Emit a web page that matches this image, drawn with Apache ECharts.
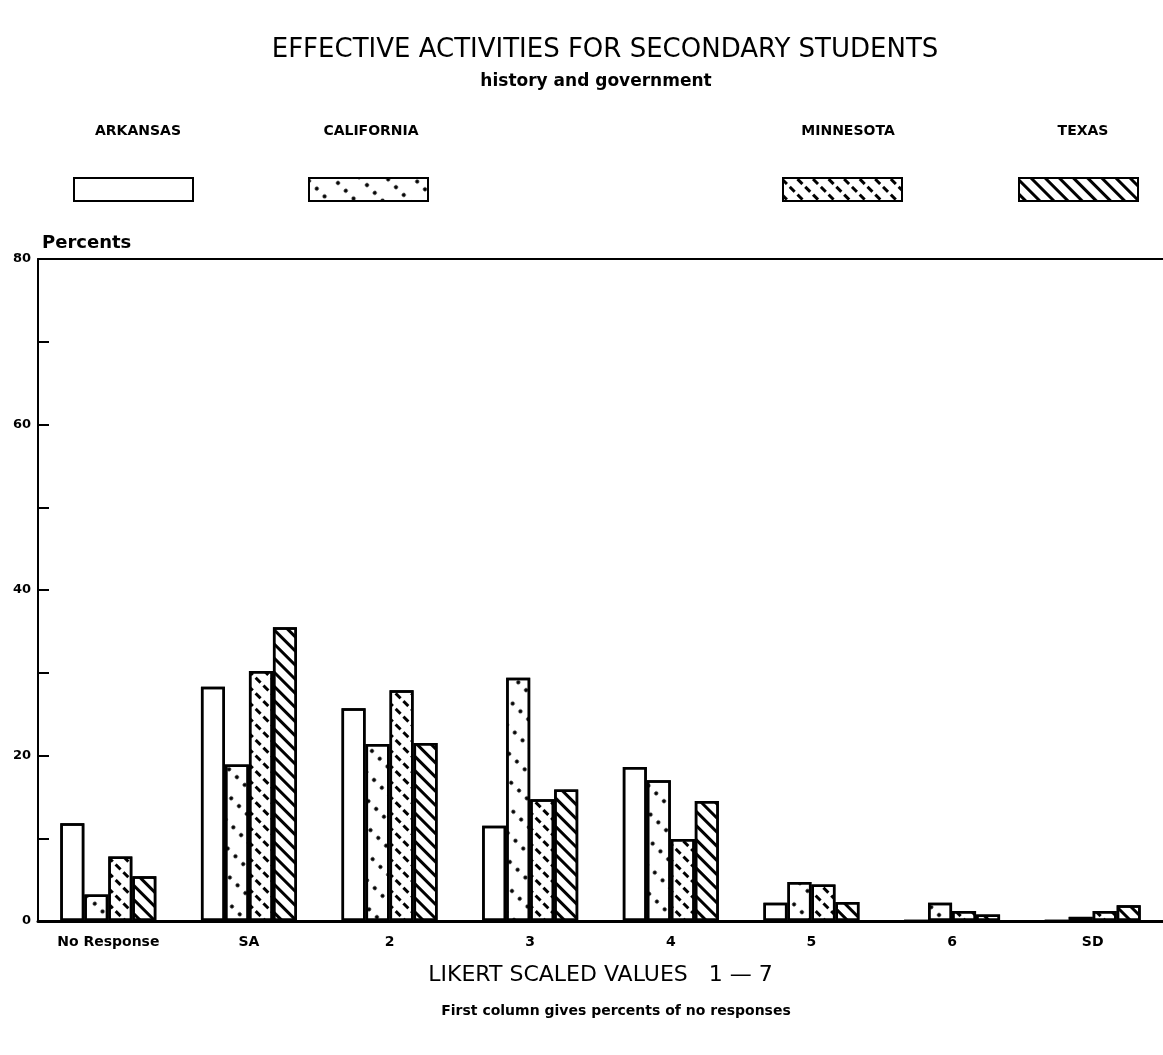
<!DOCTYPE html>
<html>
<head>
<meta charset="utf-8">
<script src="https://cdn.jsdelivr.net/npm/echarts@6/dist/echarts.min.js"></script>
<style>
html,body{margin:0;padding:0;background:#fff;}
#chart{width:1163px;height:1055px;}
</style>
</head>
<body>
<div id="chart"></div>
<script>
var categories = ['No Response', 'SA', '2', '3', '4', '5', '6', 'SD'];
var stateNames = ['ARKANSAS', 'CALIFORNIA', 'MINNESOTA', 'TEXAS'];
var arkansas   = [11.8, 28.3, 25.7, 11.5, 18.6, 2.2, 0,   0];
var california = [3.2,  18.9, 21.4, 29.4, 17.0, 4.7, 2.2, 0.5];
var minnesota  = [7.8,  30.2, 27.9, 14.7, 9.9,  4.4, 1.2, 1.2];
var texas      = [5.4,  35.5, 21.5, 15.9, 14.5, 2.3, 0.8, 1.9];
var yTicks = [0, 20, 40, 60, 80];

var FONT = 'DejaVu Sans';
var decals = [
  { symbol: 'none' },
  { symbol: 'circle', symbolSize: 1, color: '#000', dashArrayX: [3.2, 7], dashArrayY: [3.2, 15], rotation: Math.PI / 4 },
  { symbol: 'rect', symbolSize: 1, color: '#000', dashArrayX: [7, 4], dashArrayY: [2.5, 8], rotation: Math.PI / 4 },
  { symbol: 'rect', symbolSize: 1, color: '#000', dashArrayX: [1, 0], dashArrayY: [2.5, 7], rotation: Math.PI / 4 }
];
var values = [arkansas, california, minnesota, texas];

var series = stateNames.map(function (n, i) {
  return {
    name: n,
    type: 'bar',
    data: values[i],
    barWidth: 24,
    barGap: '0%',
    itemStyle: { color: '#fff', borderColor: '#000', borderWidth: 2.5, decal: decals[i] },
    emphasis: { disabled: true }
  };
});

var legendX = [73, 308, 782, 1018];
var legendLabelX = [133, 366, 843, 1078];
var legends = stateNames.map(function (n, i) {
  return {
    left: legendX[i], top: 177,
    data: [{ name: n, icon: 'rect' }],
    itemWidth: 119, itemHeight: 23,
    selectedMode: false,
    formatter: function () { return ''; },
    textStyle: { fontSize: 1 },
    padding: 0
  };
});

var titles = [
  { text: 'EFFECTIVE ACTIVITIES FOR SECONDARY STUDENTS', left: 600, textAlign: 'center', top: 32,
    textStyle: { fontFamily: FONT, fontWeight: 'normal', fontSize: 26, color: '#000' } },
  { text: 'history and government', left: 591, textAlign: 'center', top: 68,
    textStyle: { fontFamily: FONT, fontWeight: 'bold', fontSize: 17, color: '#000' } },
  { text: 'Percents', left: 37, top: 229,
    textStyle: { fontFamily: FONT, fontWeight: 'bold', fontSize: 18, color: '#000' } },
  { text: 'First column gives percents of no responses', left: 611, textAlign: 'center', top: 999,
    textStyle: { fontFamily: FONT, fontWeight: 'bold', fontSize: 14, color: '#000' } }
];
stateNames.forEach(function (n, i) {
  titles.push({ text: n, left: legendLabelX[i], top: 119, textAlign: 'center',
    textStyle: { fontFamily: FONT, fontWeight: 'bold', fontSize: 14, color: '#000' } });
});

var chart = echarts.init(document.getElementById('chart'), null, { renderer: 'canvas' });
chart.setOption({
  backgroundColor: '#fff',
  animation: false,
  aria: { enabled: true, decal: { show: true } },
  title: titles,
  legend: legends,
  grid: { left: 38, top: 259, bottom: 134, right: -9, containLabel: false },
  xAxis: [
    {
      type: 'category', data: categories,
      axisLine: { lineStyle: { color: '#000', width: 3 } },
      axisTick: { show: false },
      axisLabel: { color: '#000', fontFamily: FONT, fontWeight: 'bold', fontSize: 14, margin: 14, interval: 0, hideOverlap: false },
      name: 'LIKERT SCALED VALUES   1 \u2014 7', nameLocation: 'middle', nameGap: 43,
      nameTextStyle: { color: '#000', fontFamily: FONT, fontSize: 22 }
    },
    {
      type: 'category', data: categories, position: 'top',
      axisLine: { show: true, lineStyle: { color: '#000', width: 2 } },
      axisTick: { show: false }, axisLabel: { show: false }
    }
  ],
  yAxis: {
    type: 'value', min: 0, max: 80, interval: 10,
    axisLine: { show: true, lineStyle: { color: '#000', width: 2 } },
    axisTick: { show: true, inside: true, length: 11, lineStyle: { color: '#000', width: 2 } },
    splitLine: { show: false },
    axisLabel: { color: '#000', fontFamily: FONT, fontWeight: 'bold', fontSize: 13, margin: 7,
      formatter: function (v) { return yTicks.indexOf(v) >= 0 ? String(v) : ''; } }
  },
  series: series
});
</script>
</body>
</html>
